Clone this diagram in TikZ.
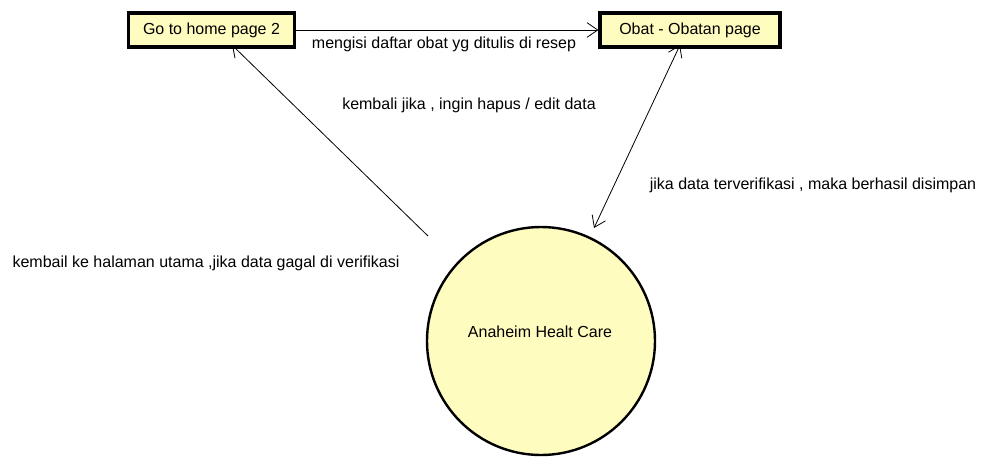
\documentclass[tikz,border=0pt]{standalone}
\usepackage{fontspec}
\setmainfont{Liberation Sans}
\usetikzlibrary{arrows.meta}

\tikzset{
  page/.style={draw, line width=2.4pt, fill=yellow!25, minimum height=25.5pt, inner sep=0pt, font=\fontsize{12}{14}\selectfont},
  sys/.style={circle, draw, line width=1.8pt, fill=yellow!25, minimum size=171pt, inner sep=0pt, font=\fontsize{12}{14}\selectfont},
  flow/.style={line width=0.6pt, -{Straight Barb[length=8pt,width=11pt]}},
  lbl/.style={font=\fontsize{12}{14}\selectfont, inner sep=0pt}
}

\begin{document}
\begin{tikzpicture}[x=0.75pt, y=-0.75pt]
  \useasboundingbox (0,0) rectangle (997,469);
  \node[page, minimum width=125pt] (home) at (211.5,30) {Go to home page 2};
  \node[page, minimum width=135pt] (obat) at (690,30) {Obat - Obatan page};
  \node[sys] (rs) at (541,341) {};
  \node[lbl] (rsname) at (540,332) {Anaheim Healt Care};
  \coordinate (backstart) at (428,236);
  \coordinate (backend) at (232,45);
  \coordinate (okobat) at (680,45);
  \coordinate (okrs) at (594,228);
  \draw[flow] (home.east) -- (obat.west);
  \draw[flow] (backstart) -- (backend);
  \draw[flow, {Straight Barb[length=8pt,width=11pt]}-{Straight Barb[length=8pt,width=11pt]}] (okrs) -- (okobat);
  \node[lbl] (isi) at (444,44) {mengisi daftar obat yg ditulis di resep};
  \node[lbl] (edit) at (469,105) {kembali jika , ingin hapus / edit data};
  \node[lbl] (simpan) at (813,185) {jika data terverifikasi , maka berhasil disimpan};
  \node[lbl] (gagal) at (206,263) {kembail ke halaman utama ,jika data gagal di verifikasi};
\end{tikzpicture}
\end{document}
